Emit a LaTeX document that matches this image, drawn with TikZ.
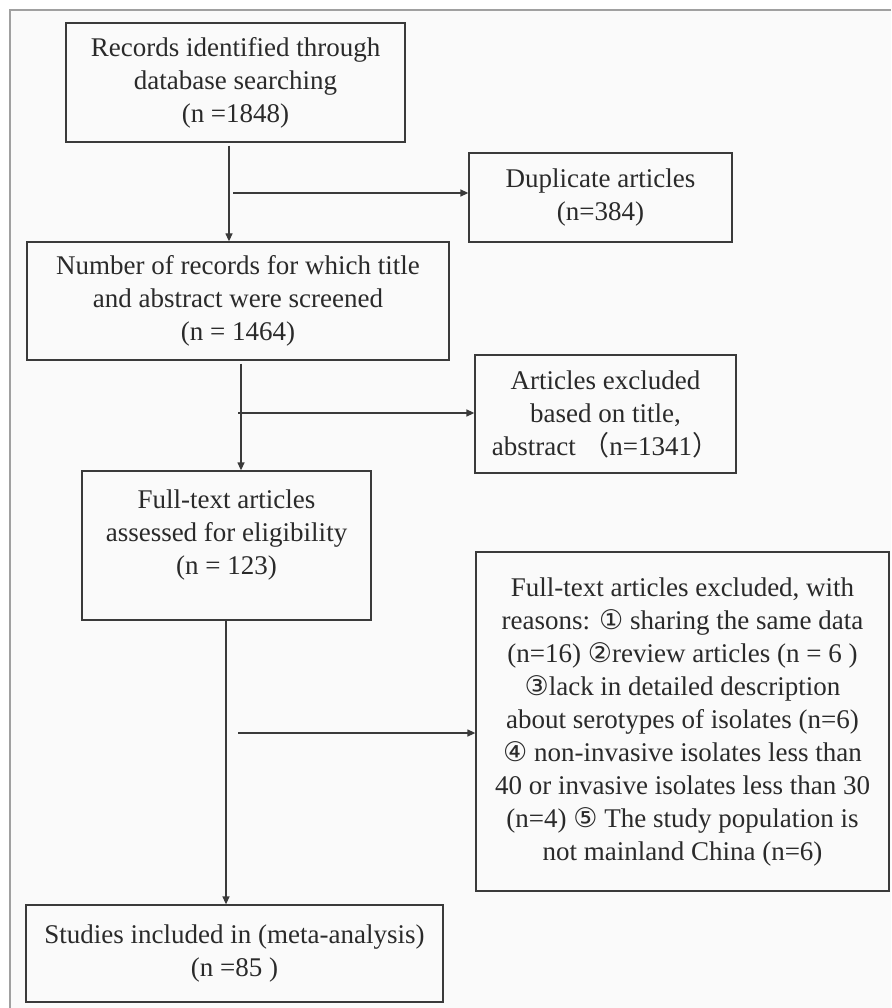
\documentclass[tikz,border=0pt]{standalone}
\usepackage{fontspec}
\setmainfont{Liberation Serif}
\newfontfamily\circfont{DejaVu Sans}
\newfontfamily\cjkfont{Noto Sans CJK SC}
\usetikzlibrary{arrows.meta}
\definecolor{linec}{HTML}{3A3A3A}
\definecolor{textc}{HTML}{2A2A2A}
\definecolor{framec}{HTML}{A0A0A0}
\definecolor{bgc}{HTML}{FAFAFA}
\newcommand{\cnum}[1]{{\circfont\fontsize{27}{33}\selectfont #1}}
\newcommand{\fwp}[1]{{\cjkfont #1}}
\begin{document}
\begin{tikzpicture}[x=1pt,y=-1pt,
  box/.style={draw=linec, line width=1.3pt, inner sep=0pt, align=center,
    text=textc, font=\fontsize{27}{33}\selectfont},
  txt/.style={inner sep=0pt, align=center, text=textc, font=\fontsize{27}{33}\selectfont},
  arr/.style={draw=linec, line width=1.3pt, -{Triangle[length=8pt,width=7pt]}}]
\useasboundingbox (0,0) rectangle (891,1008);
\fill[bgc] (10,10) rectangle (891,1008);
\draw[framec, line width=1.2pt] (10,1008) -- (10,10) -- (891,10);

\node[box, minimum width=339pt, minimum height=119pt] (b1) at (235.5,82.5)
  {Records identified through\\database searching\\(n =1848)};
\node[box, minimum width=263pt, minimum height=89pt] (dup) at (600.5,197.5)
  {Duplicate articles\\(n=384)};
\node[box, minimum width=422pt, minimum height=118pt] (b2) at (238,301)
  {Number of records for which title\\and abstract were screened\\(n = 1464)};
\node[box, minimum width=261pt, minimum height=118pt] (exc) at (605.5,414)
  {Articles excluded\\based on title,\\abstract \fwp{（}n=1341\fwp{）}};
\node[box, minimum width=289pt, minimum height=149pt] (b3) at (226.5,545.5) {};
\node[txt] (t3) at (226.5,535)
  {Full-text articles\\assessed for eligibility\\(n = 123)};
\node[box, minimum width=413pt, minimum height=339pt] (big) at (682.5,721.5)
  {Full-text articles excluded, with\\
   reasons: \cnum{①} sharing the same data\\
   (n=16) \cnum{②}review articles (n = 6 )\\
   \cnum{③}lack in detailed description\\
   about serotypes of isolates (n=6)\\
   \cnum{④} non-invasive isolates less than\\
   40 or invasive isolates less than 30\\
   (n=4) \cnum{⑤} The study population is\\
   not mainland China (n=6)};
\node[box, minimum width=417pt, minimum height=97pt] (b4) at (234.5,953.5)
  {Studies included in (meta-analysis)\\(n =85 )};

\coordinate (c1) at (229,0);
\coordinate (c2) at (241,0);
\coordinate (c3) at (226,0);
\coordinate (j1) at (233,193);
\coordinate (j2) at (238,413);
\coordinate (j3) at (238,733);

\draw[arr, shorten <=3pt] (c1 |- b1.south) -- (c1 |- b2.north);
\draw[arr] (j1) -- (j1 -| dup.west);
\draw[arr, shorten <=3pt] (c2 |- b2.south) -- (c2 |- b3.north);
\draw[arr] (j2) -- (j2 -| exc.west);
\draw[arr] (c3 |- b3.south) -- (c3 |- b4.north);
\draw[arr] (j3) -- (j3 -| big.west);
\end{tikzpicture}
\end{document}
